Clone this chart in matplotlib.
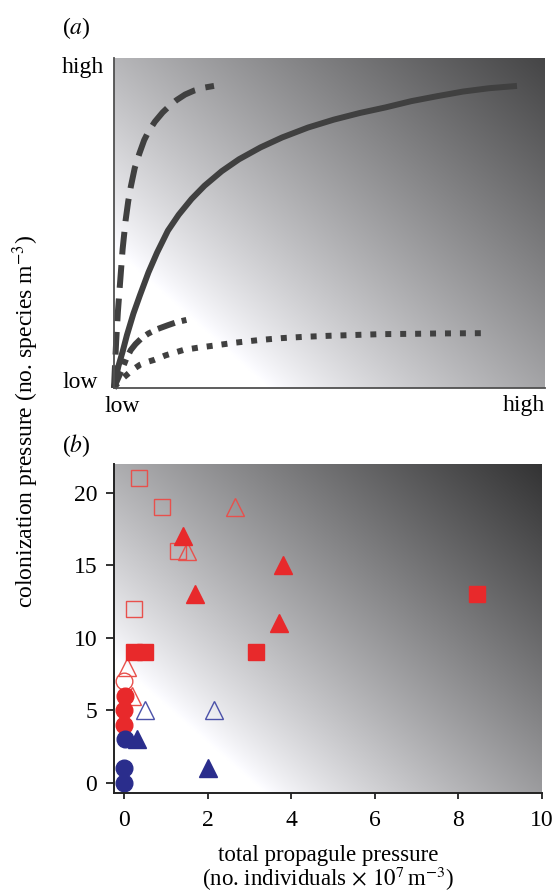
import numpy as np
import matplotlib.pyplot as plt

plt.rcParams['font.family'] = ['Liberation Serif', 'DejaVu Serif']
plt.rcParams['mathtext.fontset'] = 'stix'

# ---- panel (a): conceptual curves (fraction of axis) ----
solid_x = [0, 0.005, 0.01, 0.02, 0.03, 0.045, 0.06, 0.08, 0.10, 0.125, 0.15, 0.18,
           0.21, 0.25, 0.29, 0.34, 0.39, 0.45, 0.51, 0.57, 0.63, 0.69, 0.75, 0.81,
           0.87, 0.935]
solid_y = [0, 0.034, 0.065, 0.11, 0.16, 0.225, 0.28, 0.35, 0.41, 0.476, 0.524, 0.572,
           0.612, 0.656, 0.692, 0.728, 0.758, 0.788, 0.812, 0.832, 0.849, 0.868,
           0.883, 0.897, 0.907, 0.914]

dash_x = [0, 0.002, 0.005, 0.009, 0.014, 0.02, 0.027, 0.033, 0.039, 0.048, 0.059,
          0.07, 0.08, 0.095, 0.113, 0.13, 0.145, 0.165, 0.186, 0.21, 0.232]
dash_y = [0, 0.06, 0.14, 0.23, 0.317, 0.42, 0.508, 0.565, 0.609, 0.665, 0.71,
          0.75, 0.776, 0.806, 0.834, 0.855, 0.871, 0.888, 0.900, 0.909, 0.914]

dashdot_x = [0, 0.005, 0.01, 0.018, 0.028, 0.039, 0.05, 0.065, 0.08, 0.10, 0.125,
             0.145, 0.168]
dashdot_y = [0, 0.016, 0.031, 0.054, 0.087, 0.115, 0.133, 0.152, 0.165, 0.178, 0.19,
             0.199, 0.206]

dot_x = [0, 0.005, 0.012, 0.018, 0.029, 0.045, 0.06, 0.075, 0.093, 0.12, 0.161,
         0.195, 0.23, 0.28, 0.336, 0.39, 0.443, 0.5, 0.548, 0.62, 0.70, 0.75, 0.868]
dot_y = [0, 0.009, 0.02, 0.027, 0.039, 0.057, 0.07, 0.078, 0.085, 0.099, 0.115,
         0.122, 0.128, 0.137, 0.145, 0.151, 0.155, 0.158, 0.160, 0.163, 0.164,
         0.165, 0.166]

# ---- panel (b): observed points ----
red_open_sq_x = [0.35, 0.9, 1.3, 0.25]
red_open_sq_y = [21, 19, 16, 12]
red_open_tri_x = [2.65, 1.5, 0.08, 0.2]
red_open_tri_y = [19, 16, 8, 6]
red_tri_x = [1.4, 1.7, 3.8, 3.7]
red_tri_y = [17, 13, 15, 11]
red_sq_x = [0.25, 0.5, 3.15, 8.45]
red_sq_y = [9, 9, 9, 13]
red_open_circ_x = [0.0]
red_open_circ_y = [7]
red_circ_x = [0.02, 0.0, 0.0]
red_circ_y = [6, 5, 4]
blue_open_tri_x = [0.5, 2.15]
blue_open_tri_y = [5, 5]
blue_circ_x = [0.02, 0.0, 0.0]
blue_circ_y = [3, 1, 0]
blue_tri_x = [0.3, 2.0]
blue_tri_y = [3, 1]

RED = '#e8292b'
RED_E = '#e8504c'
BLUE = '#2a2d8c'
BLUE_E = '#4b51a8'
LINE = '#404040'


def shade(cx, cy, lo, nx=300, ny=300):
    u = np.linspace(0, 1, nx)
    v = np.linspace(0, 1, ny)
    U, V = np.meshgrid(u, v)
    s = np.clip(U / cx + V / cy - 1, 0, None)
    smax = 1 / cx + 1 / cy - 1
    g = 1 - (1 - lo) * (s / smax) ** 0.85
    return np.dstack([g, g, np.clip(g * 1.015, 0, 1)])


fig = plt.figure(figsize=(5.54, 8.93), dpi=100)

# ---------- (a) ----------
axa = fig.add_axes([114 / 554, 1 - 388 / 893, 431 / 554, 330.5 / 893])
axa.imshow(shade(0.36, 0.42, 0.27), origin='lower', extent=[0, 1, 0, 1],
           aspect='auto', interpolation='bilinear', zorder=0)
axa.set_xlim(0, 1)
axa.set_ylim(0, 1)
lw = 4.3
axa.plot(solid_x, solid_y, color=LINE, lw=lw, solid_capstyle='butt',
         solid_joinstyle='round', clip_on=False)
axa.plot(dash_x, dash_y, color=LINE, lw=lw, dashes=(3.8, 1.8), dash_capstyle='butt',
         clip_on=False)
axa.plot(dashdot_x, dashdot_y, color=LINE, lw=lw, dashes=(3.0, 1.2, 1.0, 1.2),
         dash_capstyle='butt', clip_on=False)
axa.plot(dot_x, dot_y, color=LINE, lw=lw, dashes=(1.0, 1.5), dash_capstyle='butt',
         clip_on=False)
axa.set_xticks([])
axa.set_yticks([])
for side in ['top', 'right']:
    axa.spines[side].set_visible(False)
for side in ['left', 'bottom']:
    axa.spines[side].set_linewidth(1.3)
    axa.spines[side].set_color('#505050')

fs = 17
fig.text(62 / 554, 1 - 68 / 893, 'high', fontsize=fs, ha='left', va='center')
fig.text(62 / 554, 1 - 383 / 893, 'low', fontsize=fs, ha='left', va='center')
fig.text(122 / 554, 1 - 406 / 893, 'low', fontsize=fs, ha='center', va='center')
fig.text(545 / 554, 1 - 406 / 893, 'high', fontsize=fs, ha='right', va='center')
fig.text(62 / 554, 1 - 28 / 893, r'($a$)', fontsize=fs, ha='left', va='center')
fig.text(62 / 554, 1 - 446 / 893, r'($b$)', fontsize=fs, ha='left', va='center')

# ---------- (b) ----------
axb = fig.add_axes([114 / 554, 1 - 793 / 893, 428 / 554, 329 / 893])
xlim = (-0.24, 10.0)
ylim = (-0.69, 22.0)
axb.imshow(shade(0.353, 0.404, 0.2), origin='lower',
           extent=[xlim[0], xlim[1], ylim[0], ylim[1]],
           aspect='auto', interpolation='bilinear', zorder=0)

ms = 12
axb.plot(red_open_sq_x, red_open_sq_y, 's', ms=ms, mfc='none', mec=RED_E, mew=1.0,
         ls='none', clip_on=False)
axb.plot(red_open_tri_x, red_open_tri_y, '^', ms=ms + 1, mfc='none', mec=RED_E,
         mew=1.0, ls='none', clip_on=False)
axb.plot(red_tri_x, red_tri_y, '^', ms=ms + 1, color=RED, ls='none', clip_on=False)
axb.plot(red_sq_x, red_sq_y, 's', ms=ms, color=RED, ls='none', clip_on=False)
axb.plot(red_open_circ_x, red_open_circ_y, 'o', ms=ms, mfc='none', mec=RED_E,
         mew=1.0, ls='none', clip_on=False)
axb.plot(red_circ_x, red_circ_y, 'o', ms=ms, color=RED, ls='none', clip_on=False)
axb.plot(blue_open_tri_x, blue_open_tri_y, '^', ms=ms + 1, mfc='none', mec=BLUE_E,
         mew=1.0, ls='none', clip_on=False)
axb.plot(blue_circ_x, blue_circ_y, 'o', ms=ms, color=BLUE, ls='none', clip_on=False)
axb.plot(blue_tri_x, blue_tri_y, '^', ms=ms + 1, color=BLUE, ls='none', clip_on=False)

axb.set_xlim(*xlim)
axb.set_ylim(*ylim)
axb.set_xticks([0, 2, 4, 6, 8, 10])
axb.set_yticks([0, 5, 10, 15, 20])
for side in ['top', 'right']:
    axb.spines[side].set_visible(False)
for side in ['left', 'bottom']:
    axb.spines[side].set_linewidth(1.4)
    axb.spines[side].set_color('#222222')
axb.tick_params(axis='both', direction='out', width=1.3, color='#222222',
                labelsize=fs)
axb.tick_params(axis='y', pad=6, length=6)
axb.tick_params(axis='x', pad=8, length=4.5)

fig.text(328 / 554, 1 - 861 / 893, 'total propagule pressure', fontsize=16.5,
         ha='center', va='baseline')
fig.text(328 / 554, 1 - 886 / 893, r'(no. individuals$\,\times\,10^{7}\,$m$^{-3}$)',
         fontsize=16.5, ha='center', va='baseline')
fig.text(26 / 554, 1 - 421 / 893, r'colonization pressure (no. species m$^{-3}$)',
         fontsize=fs, ha='center', va='center', rotation=90)

fig.savefig('out.png', dpi=100)
